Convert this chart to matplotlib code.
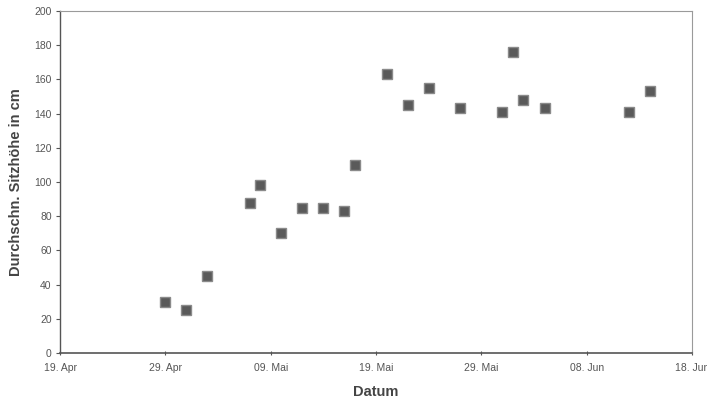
import matplotlib
matplotlib.use("Agg")
import matplotlib.pyplot as plt
import matplotlib.dates as mdates
import datetime as dt

dates = ["2008-04-29", "2008-05-01", "2008-05-03", "2008-05-07", "2008-05-08",
         "2008-05-10", "2008-05-12", "2008-05-14", "2008-05-16", "2008-05-17",
         "2008-05-20", "2008-05-22", "2008-05-24", "2008-05-27", "2008-05-31",
         "2008-06-01", "2008-06-02", "2008-06-04", "2008-06-12", "2008-06-14"]
heights = [30, 25, 45, 88, 98, 70, 85, 85, 83, 110,
           163, 145, 155, 143, 141, 176, 148, 143, 141, 153]
tick_dates = ["2008-04-19", "2008-04-29", "2008-05-09", "2008-05-19",
              "2008-05-29", "2008-06-08", "2008-06-18"]
tick_labels = ["19. Apr", "29. Apr", "09. Mai", "19. Mai", "29. Mai", "08. Jun", "18. Jun"]
y_ticks = [0, 20, 40, 60, 80, 100, 120, 140, 160, 180, 200]

plt.rcParams['font.family'] = ['Liberation Sans', 'DejaVu Sans']

x = [dt.datetime.strptime(d, "%Y-%m-%d") for d in dates]
xt = [dt.datetime.strptime(d, "%Y-%m-%d") for d in tick_dates]

fig = plt.figure(figsize=(7.07, 4.0), dpi=100)
ax = fig.add_axes([60/707, 47/400, 632/707, 342/400])
ax.plot(x, heights, linestyle='none', marker='s', markersize=7.5,
        markerfacecolor='#5a5a5a', markeredgecolor='#8a8a8a', markeredgewidth=1.0)

ax.set_xlim(xt[0], xt[-1])
ax.set_ylim(0, 200)
ax.set_xticks(xt)
ax.set_xticklabels(tick_labels)
ax.set_yticks(y_ticks)

for s in ax.spines.values():
    s.set_color('#9a9a9a')
    s.set_linewidth(0.8)
ax.spines['bottom'].set_color('#555555')
ax.spines['left'].set_color('#555555')
ax.spines['bottom'].set_linewidth(1.2)
ax.spines['left'].set_linewidth(1.0)

ax.tick_params(axis='both', colors='#555555', labelsize=7.5, length=3, width=0.8,
               labelcolor='#555555')
ax.tick_params(axis='x', direction='inout', pad=6)
ax.tick_params(axis='y', direction='out', length=3, pad=3)

ax.set_xlabel("Datum", fontsize=10.5, fontweight='bold', color='#444444', labelpad=8)
ax.set_ylabel("Durchschn. Sitzhöhe in cm", fontsize=10.5, fontweight='bold',
              color='#444444', labelpad=8)

fig.savefig("out.png", dpi=100)
